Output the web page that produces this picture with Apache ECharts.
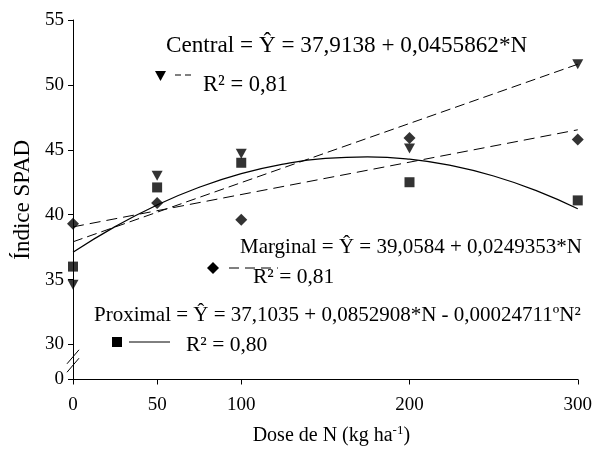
<!DOCTYPE html>
<html><head><meta charset="utf-8">
<script src="https://cdn.jsdelivr.net/npm/echarts@6/dist/echarts.min.js"></script>
<style>html,body{margin:0;padding:0;background:#fff}#c{width:595px;height:451px}</style>
</head><body><div id="c"></div>
<script>
// ---- data ----
const doses = [0, 50, 100, 200, 300];
const central = [34.6, 43.0, 44.7, 45.1, 51.6];
const proximal = [36.0, 42.1, 44.0, 42.5, 41.1];
const marginal = [39.3, 40.9, 39.6, 45.9, 45.8];

// regression curves as drawn (values at the listed doses)
const centralFitN = [0, 300];
const centralFit = [37.91, 51.59];
const marginalFitN = [0, 300];
const marginalFit = [39.06, 46.54];
const proximalFitN = [0, 25, 50, 75, 100, 125, 150, 175, 200, 225, 250, 275, 300];
const proximalFit = [37.10, 39.08, 40.75, 42.11, 43.16, 43.90, 44.34, 44.46, 44.28, 43.78, 42.98, 41.87, 40.45];

const xTicks = [0, 50, 100, 200, 300];
const yTicks = [30, 35, 40, 45, 50, 55];
const yZeroPos = 27.3;   // where the "0" sits below the axis break
const yZeroLabel = '0';

const eqCentral = 'Central = Ŷ = 37,9138 + 0,0455862*N';
const r2Central = 'R² = 0,81';
const eqMarginal = 'Marginal = Ŷ = 39,0584 + 0,0249353*N';
const r2Marginal = 'R² = 0,81';
const eqProximal = 'Proximal = Ŷ = 37,1035 + 0,0852908*N - 0,00024711ºN²';
const r2Proximal = 'R² = 0,80';

const pairs = (xs, ys) => xs.map((x, i) => [x, ys[i]]);
const FONT = '"Liberation Serif", "Times New Roman", serif';

const chart = echarts.init(document.getElementById('c'), null, {renderer: 'canvas'});
const yLabelVals = [yZeroPos].concat(yTicks);

chart.setOption({
  animation: false,
  backgroundColor: '#fff',
  grid: {left: 73, right: 13, top: 20, bottom: 61, containLabel: false},
  xAxis: {
    type: 'value', min: 0, max: 300,
    name: 'Dose de N (kg ha{sup|-1})', nameLocation: 'middle', nameGap: 45,
    nameTextStyle: {fontFamily: FONT, fontSize: 20, color: '#000', padding: [0, 0, 0, 12],
      rich: {sup: {fontFamily: FONT, fontSize: 13, color: '#000', padding: [0, 0, 10, 0]}}},
    axisLine: {show: true, onZero: false, lineStyle: {color: '#000', width: 1}},
    axisTick: {show: true, length: 5, customValues: xTicks, lineStyle: {color: '#000'}},
    axisLabel: {customValues: xTicks, fontFamily: FONT, fontSize: 19, color: '#000', margin: 16},
    splitLine: {show: false}
  },
  yAxis: {
    type: 'value', min: yZeroPos, max: 55,
    name: 'Índice SPAD', nameLocation: 'middle', nameGap: 31, nameRotate: 90,
    nameTextStyle: {fontFamily: FONT, fontSize: 23, color: '#000'},
    axisLine: {show: true, onZero: false, lineStyle: {color: '#000', width: 1}},
    axisTick: {show: true, length: 5, customValues: yLabelVals, lineStyle: {color: '#000'}},
    axisLabel: {customValues: yLabelVals, fontFamily: FONT, fontSize: 19, color: '#000', margin: 9,
      formatter: v => Math.abs(v - yZeroPos) < 0.01 ? yZeroLabel : String(Math.round(v))},
    splitLine: {show: false}
  },
  series: [
    {type: 'line', data: pairs(centralFitN, centralFit), symbol: 'none', silent: true,
     lineStyle: {color: '#000', width: 1, type: [10, 5]}},
    {type: 'line', data: pairs(marginalFitN, marginalFit), symbol: 'none', silent: true,
     lineStyle: {color: '#000', width: 1, type: [11, 6]}},
    {type: 'line', data: pairs(proximalFitN, proximalFit), symbol: 'none', smooth: true, silent: true,
     lineStyle: {color: '#000', width: 1.2}},
    {type: 'scatter', data: pairs(doses, central), symbol: 'triangle', symbolRotate: 180,
     symbolSize: [11, 10], itemStyle: {color: '#000'}, z: 5},
    {type: 'scatter', data: pairs(doses, proximal), symbol: 'rect',
     symbolSize: 10, itemStyle: {color: '#000'}, z: 5},
    {type: 'scatter', data: pairs(doses, marginal), symbol: 'diamond',
     symbolSize: [12, 12], itemStyle: {color: '#000'}, z: 5}
  ]
});

// break marks "//" on the y axis, positioned through the axis scale
const pA = chart.convertToPixel({gridIndex: 0}, [0, 29.05]);
const pB = chart.convertToPixel({gridIndex: 0}, [0, 28.4]);
const txt = (t, x, y, size) => ({type: 'text', z: 10, style: {text: t, x: x, y: y,
  font: (size || 21) + 'px ' + FONT, fill: '#000', align: 'left', verticalAlign: 'middle'}});
const ln = (x1, y1, x2, y2, dash) => ({type: 'line', z: 10, shape: {x1, y1, x2, y2},
  style: {stroke: '#000', lineWidth: 1, lineDash: dash || null}});

chart.setOption({
  graphic: [
    ln(pA[0] - 6, pA[1] + 7, pA[0] + 6, pA[1] - 7),
    ln(pB[0] - 6, pB[1] + 7, pB[0] + 6, pB[1] - 7),
    txt(eqCentral, 166, 46, 23.2),
    {type: 'polygon', z: 10, shape: {points: [[155, 71], [166, 71], [160.5, 81]]}, style: {fill: '#000'}},
    ln(175, 75, 192, 75, [6, 4]),
    txt(r2Central, 203, 85, 22.5),
    txt(eqMarginal, 240, 247),
    {type: 'polygon', z: 10, shape: {points: [[213, 262], [219, 268], [213, 274], [207, 268]]}, style: {fill: '#000'}},
    ln(229, 268, 278, 268, [10, 6]),
    txt(r2Marginal, 253, 277, 21.5),
    txt(eqProximal, 94, 315),
    {type: 'rect', z: 10, shape: {x: 112, y: 337, width: 10, height: 10}, style: {fill: '#000'}},
    ln(129, 342, 170, 342),
    txt(r2Proximal, 186, 345, 21.5)
  ]
});
</script>
</body></html>
